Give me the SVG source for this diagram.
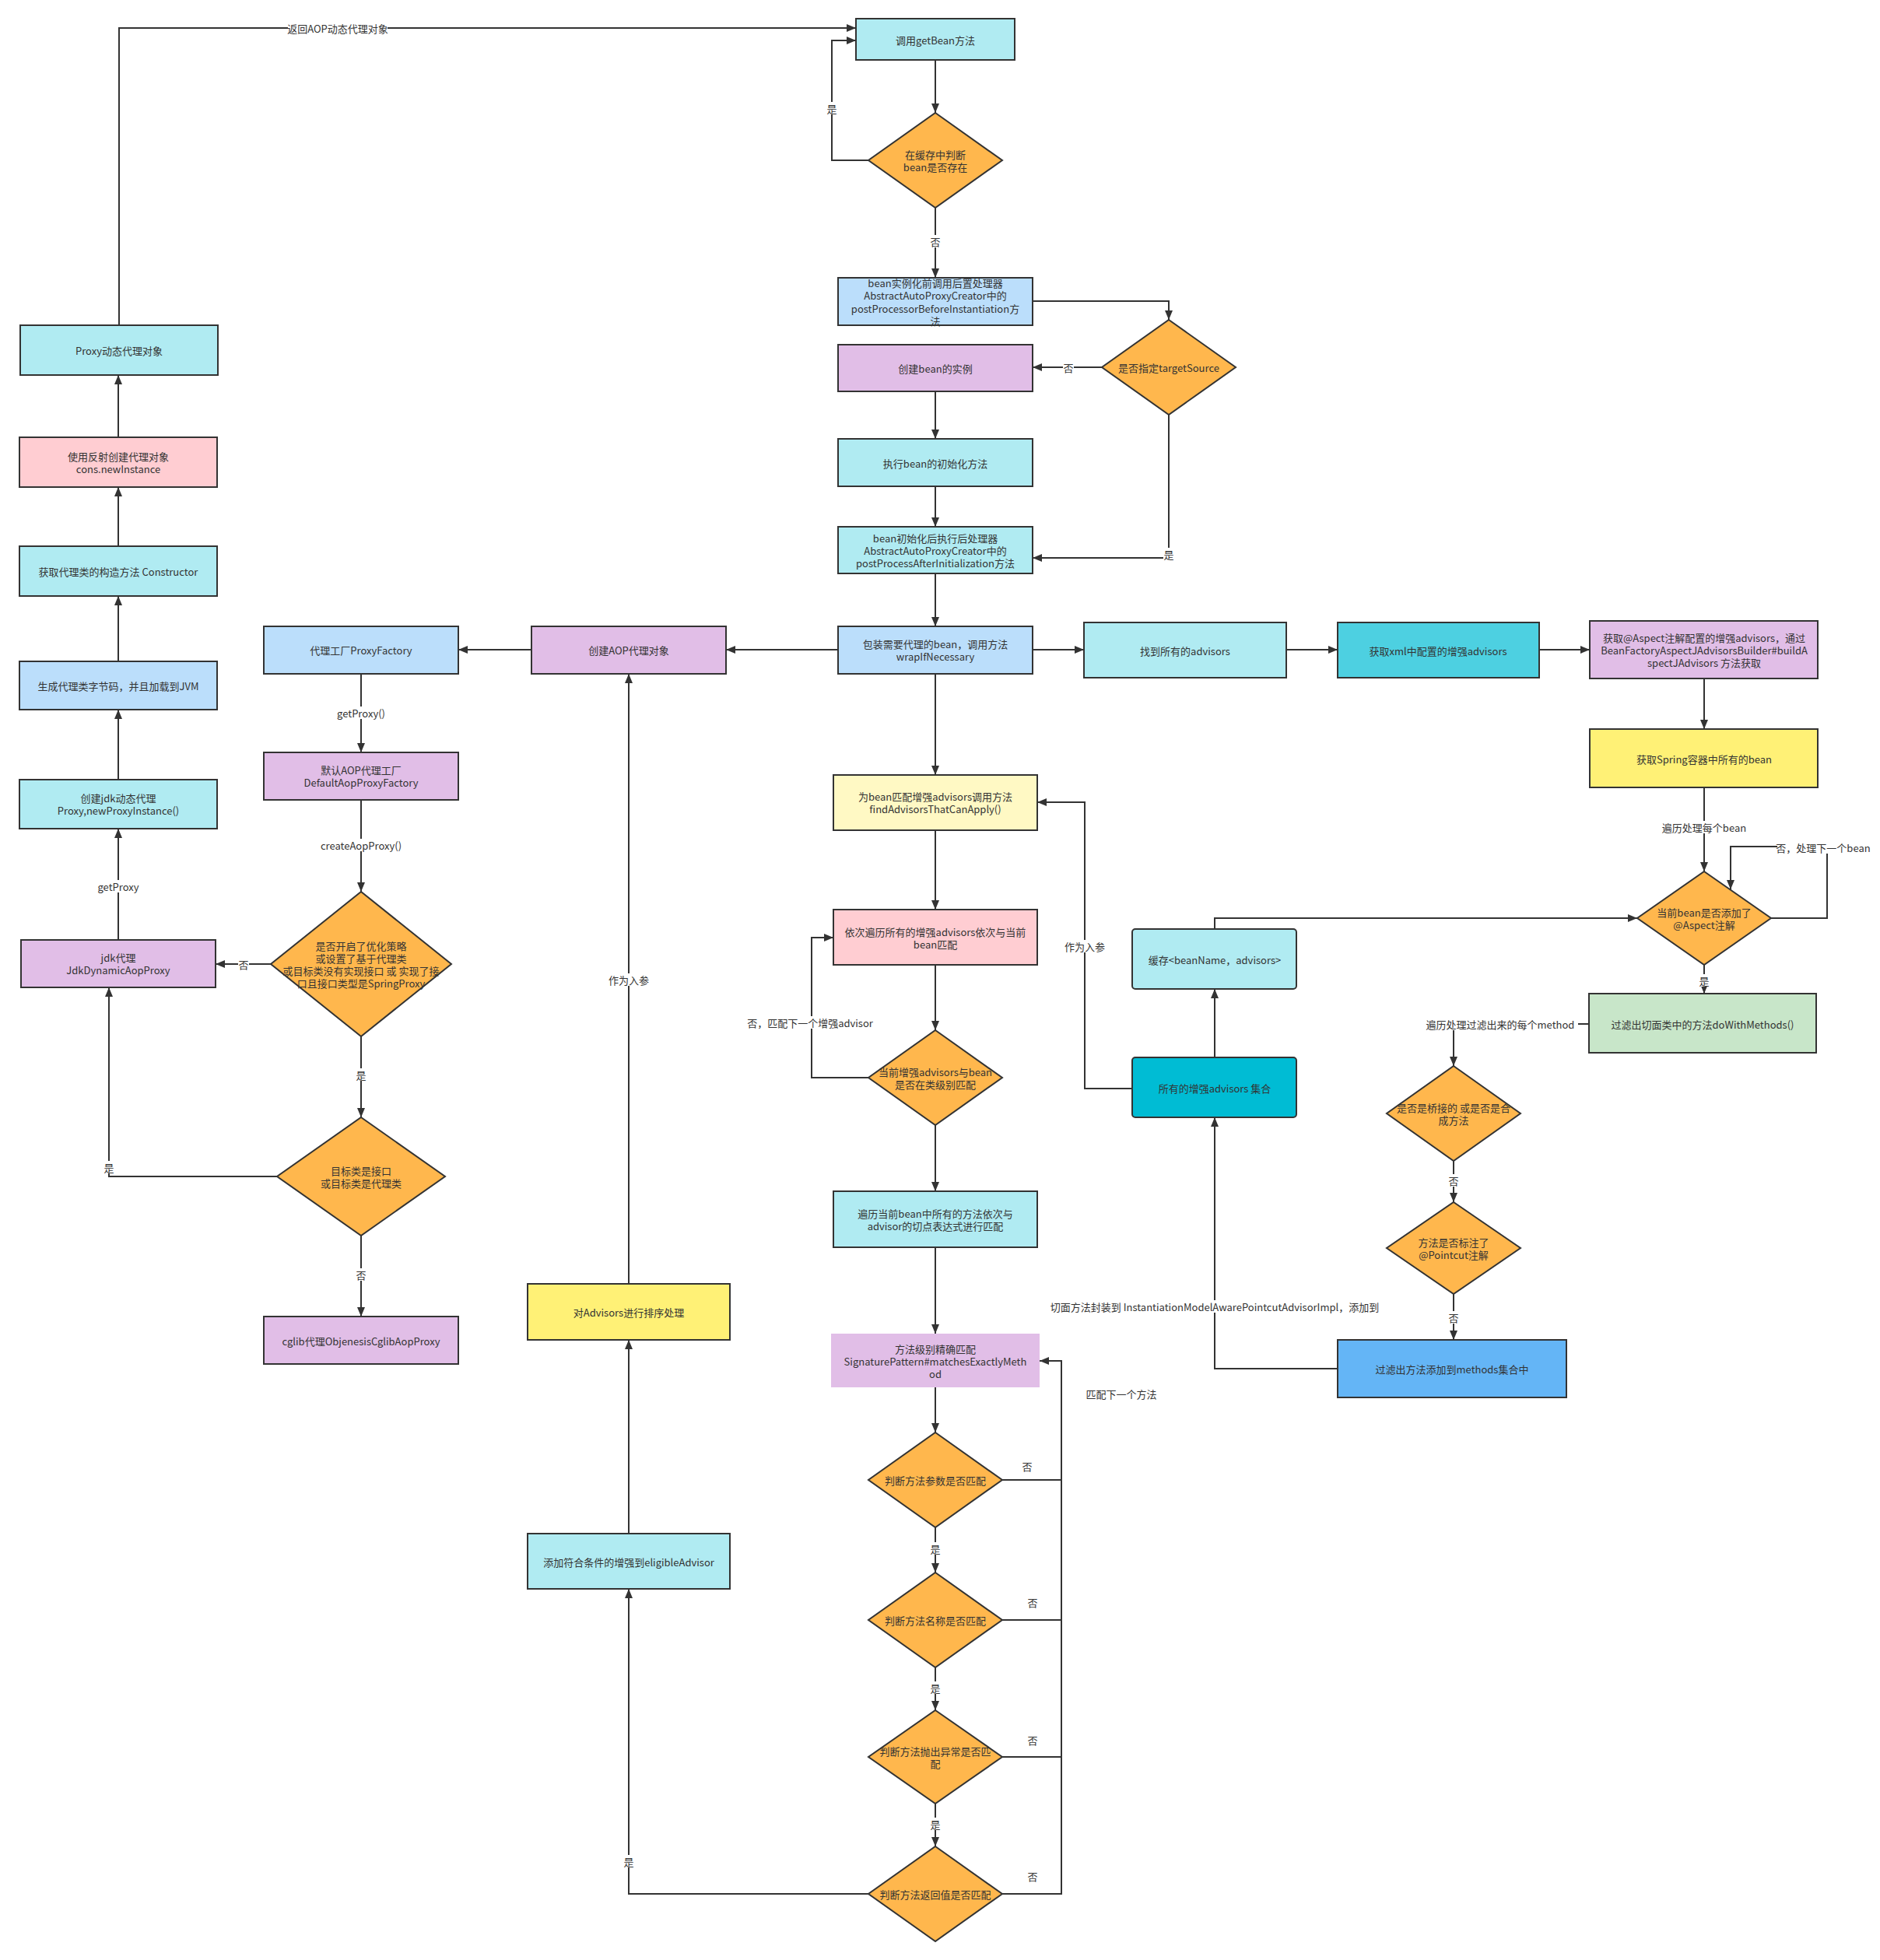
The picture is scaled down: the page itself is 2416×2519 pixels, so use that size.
<svg xmlns="http://www.w3.org/2000/svg" width="2416" height="2519" viewBox="0 0 2416 2519">
<style>
.n{stroke:#333;stroke-width:2}
.nb{stroke:none}
.cy{fill:#B0EBF2}.lb{fill:#BBDEFB}.pu{fill:#E1BEE7}.or{fill:#FFB74D}.pk{fill:#FFCDD2}
.ye{fill:#FFF176}.ly{fill:#FFF9C4}.te{fill:#4DD0E1}.dc{fill:#00BCD4}.gr{fill:#C8E6C9}.bl{fill:#64B5F6}
text{font-family:"Noto Sans CJK SC","Liberation Sans",sans-serif;font-size:13px;fill:#333;text-anchor:middle;dominant-baseline:central}
.e path{fill:none;stroke:#333;stroke-width:2}
.e path.a{marker-end:url(#ar)}
.lbg{fill:#fff}
</style>
<defs>
<marker id="ar" markerWidth="14" markerHeight="12" refX="13" refY="6" orient="auto" markerUnits="userSpaceOnUse">
<path d="M1,1 L13,6 L1,11 Z" fill="#333"/>
</marker>
</defs>
<rect x="0" y="0" width="2416" height="2519" fill="#fff"/>

<g id="edges" class="e">
<path class="a" d="M1202,77 V145"/>
<path class="a" d="M1116,206 H1069 V52 H1100"/>
<path class="a" d="M153,418 V36 H1100"/>
<path class="a" d="M1202,267 V357"/>
<path class="a" d="M1327,387 H1502 V411"/>
<path class="a" d="M1416,472 H1327"/>
<path class="a" d="M1502,533 V717 H1327"/>
<path class="a" d="M1202,503 V564"/>
<path class="a" d="M1202,625 V677"/>
<path class="a" d="M1202,737 V805"/>
<path class="a" d="M1077,835 H933"/>
<path class="a" d="M683,835 H589"/>
<path class="a" d="M1327,835 H1393"/>
<path class="a" d="M1653,835 H1719"/>
<path class="a" d="M1978,835 H2043"/>
<path class="a" d="M2190,872 V937"/>
<path class="a" d="M2190,1012 V1120"/>
<path class="a" d="M2276,1180 H2348 V1088 H2224 V1143"/>
<path class="a" d="M2190,1240 V1277"/>
<path class="a" d="M2041,1316 H1868 V1370"/>
<path class="a" d="M1868,1492 V1545"/>
<path class="a" d="M1868,1663 V1722"/>
<path class="a" d="M1719,1759 H1561 V1436"/>
<path class="a" d="M1561,1359 V1271"/>
<path class="a" d="M1561,1194 V1180 H2104"/>
<path class="a" d="M1455,1399 H1394 V1031 H1333"/>
<path class="a" d="M1202,866 V996"/>
<path class="a" d="M1202,1067 V1169"/>
<path class="a" d="M1202,1240 V1324"/>
<path class="a" d="M1116,1385 H1043 V1205 H1071"/>
<path class="a" d="M1202,1446 V1531"/>
<path class="a" d="M1202,1603 V1714"/>
<path class="a" d="M1202,1783 V1841"/>
<path class="a" d="M1202,1963 V2021"/>
<path class="a" d="M1202,2143 V2198"/>
<path class="a" d="M1202,2318 V2373"/>
<path d="M1288,1902 H1364"/>
<path d="M1288,2082 H1364"/>
<path d="M1288,2258 H1364"/>
<path class="a" d="M1288,2434 H1364 V1749 H1336"/>
<path class="a" d="M1116,2434 H808 V2042"/>
<path class="a" d="M808,1971 V1722"/>
<path class="a" d="M808,1650 V866"/>
<path class="a" d="M464,866 V967"/>
<path class="a" d="M464,1028 V1146"/>
<path class="a" d="M348,1239 H277"/>
<path class="a" d="M464,1332 V1436"/>
<path class="a" d="M356,1512 H140 V1269"/>
<path class="a" d="M464,1588 V1692"/>
<path class="a" d="M152,1208 V1065"/>
<path class="a" d="M152,1002 V912"/>
<path class="a" d="M152,850 V766"/>
<path class="a" d="M152,702 V626"/>
<path class="a" d="M152,562 V482"/>
</g>

<g id="edge-labels">
<rect class="lbg" x="370" y="28" width="128" height="16"/><text x="434" y="36">返回AOP动态代理对象</text>
<rect class="lbg" x="1062" y="131" width="14" height="16"/><text x="1069" y="139">是</text>
<rect class="lbg" x="1195" y="302" width="14" height="16"/><text x="1202" y="310">否</text>
<rect class="lbg" x="1366" y="464" width="14" height="16"/><text x="1373" y="472">否</text>
<rect class="lbg" x="1495" y="704" width="14" height="16"/><text x="1502" y="712">是</text>
<rect class="lbg" x="432" y="908" width="64" height="16"/><text x="464" y="916">getProxy()</text>
<rect class="lbg" x="410" y="1078" width="108" height="16"/><text x="464" y="1086">createAopProxy()</text>
<rect class="lbg" x="306" y="1231" width="14" height="16"/><text x="313" y="1239">否</text>
<rect class="lbg" x="457" y="1373" width="14" height="16"/><text x="464" y="1381">是</text>
<rect class="lbg" x="133" y="1492" width="14" height="16"/><text x="140" y="1500">是</text>
<rect class="lbg" x="457" y="1630" width="14" height="16"/><text x="464" y="1638">否</text>
<rect class="lbg" x="124" y="1131" width="56" height="16"/><text x="152" y="1139">getProxy</text>
<rect class="lbg" x="780" y="1251" width="56" height="16"/><text x="808" y="1259">作为入参</text>
<rect class="lbg" x="801" y="2384" width="14" height="16"/><text x="808" y="2392">是</text>
<rect class="lbg" x="956" y="1306" width="170" height="16"/><text x="1041" y="1314">否，匹配下一个增强advisor</text>
<rect class="lbg" x="1366" y="1208" width="56" height="16"/><text x="1394" y="1216">作为入参</text>
<rect class="lbg" x="1195" y="1982" width="14" height="16"/><text x="1202" y="1990">是</text>
<rect class="lbg" x="1195" y="2161" width="14" height="16"/><text x="1202" y="2169">是</text>
<rect class="lbg" x="1195" y="2336" width="14" height="16"/><text x="1202" y="2344">是</text>
<text x="1320" y="1884">否</text>
<text x="1327" y="2059">否</text>
<text x="1327" y="2236">否</text>
<text x="1327" y="2411">否</text>
<text x="1441" y="1791">匹配下一个方法</text>
<rect class="lbg" x="2140" y="1055" width="100" height="16"/><text x="2190" y="1063">遍历处理每个bean</text>
<rect class="lbg" x="2284" y="1081" width="118" height="16"/><text x="2343" y="1089">否，处理下一个bean</text>
<rect class="lbg" x="2183" y="1252" width="14" height="16"/><text x="2190" y="1260">是</text>
<rect class="lbg" x="1828" y="1308" width="200" height="16"/><text x="1928" y="1316">遍历处理过滤出来的每个method</text>
<rect class="lbg" x="1861" y="1509" width="14" height="16"/><text x="1868" y="1517">否</text>
<rect class="lbg" x="1861" y="1685" width="14" height="16"/><text x="1868" y="1693">否</text>
<rect class="lbg" x="1344" y="1671" width="434" height="16"/><text x="1561" y="1679">切面方法封装到 InstantiationModelAwarePointcutAdvisorImpl，添加到</text>
</g>

<g id="n-getBean"><rect class="n cy" x="1100" y="24" width="204" height="53"/><text x="1202" y="51">调用getBean方法</text></g>
<g id="n-cache"><polygon class="n or" points="1202,145 1288,206 1202,267 1116,206"/><text x="1202" y="198">在缓存中判断</text><text x="1202" y="214">bean是否存在</text></g>
<g id="n-before"><rect class="n lb" x="1077" y="357" width="250" height="61"/><text x="1202" y="363">bean实例化前调用后置处理器</text><text x="1202" y="379">AbstractAutoProxyCreator中的</text><text x="1202" y="396">postProcessorBeforeInstantiation方</text><text x="1202" y="412">法</text></g>
<g id="n-create"><rect class="n pu" x="1077" y="443" width="250" height="60"/><text x="1202" y="473">创建bean的实例</text></g>
<g id="n-target"><polygon class="n or" points="1502,411 1588,472 1502,533 1416,472"/><text x="1502" y="472">是否指定targetSource</text></g>
<g id="n-init"><rect class="n cy" x="1077" y="564" width="250" height="61"/><text x="1202" y="595">执行bean的初始化方法</text></g>
<g id="n-after"><rect class="n cy" x="1077" y="677" width="250" height="60"/><text x="1202" y="691">bean初始化后执行后处理器</text><text x="1202" y="707">AbstractAutoProxyCreator中的</text><text x="1202" y="723">postProcessAfterInitialization方法</text></g>
<g id="n-wrap"><rect class="n lb" x="1077" y="805" width="250" height="61"/><text x="1202" y="827">包装需要代理的bean，调用方法</text><text x="1202" y="843">wrapIfNecessary</text></g>
<g id="n-findAll"><rect class="n cy" x="1393" y="800" width="260" height="71"/><text x="1523" y="836">找到所有的advisors</text></g>
<g id="n-xml"><rect class="n te" x="1719" y="800" width="259" height="71"/><text x="1848" y="836">获取xml中配置的增强advisors</text></g>
<g id="n-aspect"><rect class="n pu" x="2043" y="798" width="293" height="74"/><text x="2190" y="819">获取@Aspect注解配置的增强advisors，通过</text><text x="2190" y="835">BeanFactoryAspectJAdvisorsBuilder#buildA</text><text x="2190" y="851">spectJAdvisors 方法获取</text></g>
<g id="n-spring"><rect class="n ye" x="2043" y="937" width="293" height="75"/><text x="2190" y="975">获取Spring容器中所有的bean</text></g>
<g id="n-hasAspect"><polygon class="n or" points="2190,1120 2276,1180 2190,1240 2104,1180"/><text x="2190" y="1172">当前bean是否添加了</text><text x="2190" y="1188">@Aspect注解</text></g>
<g id="n-doWith"><rect class="n gr" x="2042" y="1277" width="292" height="76"/><text x="2188" y="1316">过滤出切面类中的方法doWithMethods()</text></g>
<g id="n-bridge"><polygon class="n or" points="1868,1370 1954,1431 1868,1492 1782,1431"/><text x="1868" y="1423">是否是桥接的 或是否是合</text><text x="1868" y="1439">成方法</text></g>
<g id="n-pointcut"><polygon class="n or" points="1868,1545 1954,1604 1868,1663 1782,1604"/><text x="1868" y="1596">方法是否标注了</text><text x="1868" y="1612">@Pointcut注解</text></g>
<g id="n-methods"><rect class="n bl" x="1719" y="1722" width="294" height="74"/><text x="1866" y="1759">过滤出方法添加到methods集合中</text></g>
<g id="n-allAdvisors"><rect class="n dc" x="1455" y="1359" width="211" height="77" rx="4"/><text x="1561" y="1398">所有的增强advisors 集合</text></g>
<g id="n-cacheMap"><rect class="n cy" x="1455" y="1194" width="211" height="77" rx="4"/><text x="1561" y="1233">缓存&lt;beanName，advisors&gt;</text></g>
<g id="n-findApply"><rect class="n ly" x="1071" y="996" width="262" height="71"/><text x="1202" y="1023">为bean匹配增强advisors调用方法</text><text x="1202" y="1039">findAdvisorsThatCanApply()</text></g>
<g id="n-iterate"><rect class="n pk" x="1071" y="1169" width="262" height="71"/><text x="1202" y="1197">依次遍历所有的增强advisors依次与当前</text><text x="1202" y="1213">bean匹配</text></g>
<g id="n-classMatch"><polygon class="n or" points="1202,1324 1288,1385 1202,1446 1116,1385"/><text x="1202" y="1377">当前增强advisors与bean</text><text x="1202" y="1393">是否在类级别匹配</text></g>
<g id="n-methodsIter"><rect class="n cy" x="1071" y="1531" width="262" height="72"/><text x="1202" y="1559">遍历当前bean中所有的方法依次与</text><text x="1202" y="1575">advisor的切点表达式进行匹配</text></g>
<g id="n-exact"><rect class="nb pu" x="1068" y="1714" width="268" height="69"/><text x="1202" y="1733">方法级别精确匹配</text><text x="1202" y="1749">SignaturePattern#matchesExactlyMeth</text><text x="1202" y="1765">od</text></g>
<g id="n-param"><polygon class="n or" points="1202,1841 1288,1902 1202,1963 1116,1902"/><text x="1202" y="1902">判断方法参数是否匹配</text></g>
<g id="n-name"><polygon class="n or" points="1202,2021 1288,2082 1202,2143 1116,2082"/><text x="1202" y="2082">判断方法名称是否匹配</text></g>
<g id="n-throw"><polygon class="n or" points="1202,2198 1288,2258 1202,2318 1116,2258"/><text x="1202" y="2250">判断方法抛出异常是否匹</text><text x="1202" y="2266">配</text></g>
<g id="n-return"><polygon class="n or" points="1202,2373 1288,2434 1202,2495 1116,2434"/><text x="1202" y="2434">判断方法返回值是否匹配</text></g>
<g id="n-eligible"><rect class="n cy" x="678" y="1971" width="260" height="71"/><text x="808" y="2007">添加符合条件的增强到eligibleAdvisor</text></g>
<g id="n-sort"><rect class="n ye" x="678" y="1650" width="260" height="72"/><text x="808" y="1686">对Advisors进行排序处理</text></g>
<g id="n-createAop"><rect class="n pu" x="683" y="805" width="250" height="61"/><text x="808" y="835">创建AOP代理对象</text></g>
<g id="n-proxyFactory"><rect class="n lb" x="339" y="805" width="250" height="61"/><text x="464" y="835">代理工厂ProxyFactory</text></g>
<g id="n-defaultFactory"><rect class="n pu" x="339" y="967" width="250" height="61"/><text x="464" y="989">默认AOP代理工厂</text><text x="464" y="1005">DefaultAopProxyFactory</text></g>
<g id="n-optimize"><polygon class="n or" points="464,1146 580,1239 464,1332 348,1239"/><text x="464" y="1215">是否开启了优化策略</text><text x="464" y="1231">或设置了基于代理类</text><text x="464" y="1247">或目标类没有实现接口 或 实现了接</text><text x="464" y="1263">口且接口类型是SpringProxy</text></g>
<g id="n-isInterface"><polygon class="n or" points="464,1436 572,1512 464,1588 356,1512"/><text x="464" y="1504">目标类是接口</text><text x="464" y="1520">或目标类是代理类</text></g>
<g id="n-cglib"><rect class="n pu" x="339" y="1692" width="250" height="61"/><text x="464" y="1723">cglib代理ObjenesisCglibAopProxy</text></g>
<g id="n-jdk"><rect class="n pu" x="27" y="1208" width="250" height="61"/><text x="152" y="1230">jdk代理</text><text x="152" y="1246">JdkDynamicAopProxy</text></g>
<g id="n-newProxy"><rect class="n cy" x="25" y="1002" width="254" height="63"/><text x="152" y="1025">创建jdk动态代理</text><text x="152" y="1041">Proxy,newProxyInstance()</text></g>
<g id="n-bytecode"><rect class="n lb" x="25" y="850" width="254" height="62"/><text x="152" y="881">生成代理类字节码，并且加载到JVM</text></g>
<g id="n-ctor"><rect class="n cy" x="25" y="702" width="254" height="64"/><text x="152" y="734">获取代理类的构造方法 Constructor</text></g>
<g id="n-reflect"><rect class="n pk" x="25" y="562" width="254" height="64"/><text x="152" y="586">使用反射创建代理对象</text><text x="152" y="602">cons.newInstance</text></g>
<g id="n-proxyObj"><rect class="n cy" x="26" y="418" width="254" height="64"/><text x="153" y="450">Proxy动态代理对象</text></g>
</svg>
